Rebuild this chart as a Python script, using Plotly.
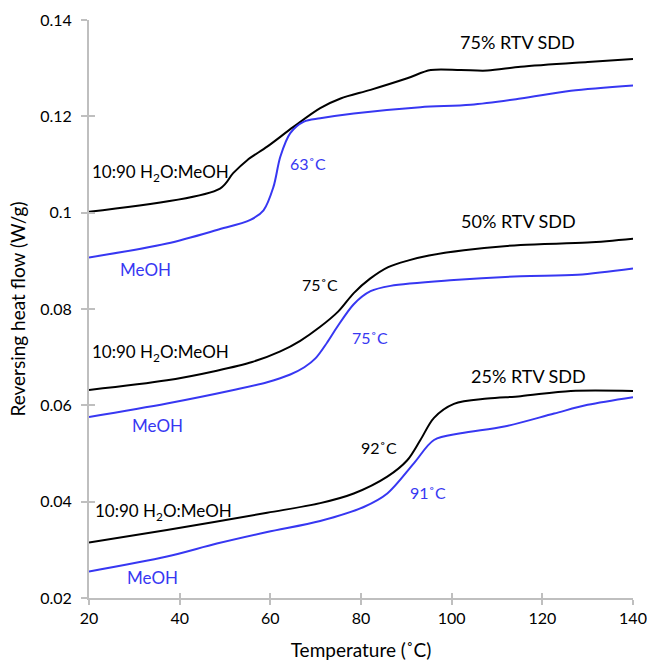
import plotly.graph_objects as go

# 75% RTV SDD
x75_w = [20, 48.9, 51.8, 54.9, 59.3, 65.1, 71.0, 75.5, 82.1, 90.2, 95.4, 102, 107.9, 115.2, 130, 140]
y75_w = [0.1002, 0.1050, 0.1082, 0.1109, 0.1137, 0.1178, 0.1217, 0.1237, 0.1255, 0.1279, 0.1296, 0.1296, 0.1295, 0.1303, 0.1313, 0.1319]
x75_m = [20, 37.2, 48.2, 55.6, 58.5, 60.7, 62.2, 64.4, 67.4, 71.0, 78.4, 93.1, 104.2, 115.2, 126.3, 140]
y75_m = [0.0907, 0.0936, 0.0964, 0.0985, 0.1005, 0.1054, 0.1116, 0.1165, 0.1189, 0.1196, 0.1206, 0.1219, 0.1224, 0.1237, 0.1253, 0.1264]

# 50% RTV SDD
x50_w = [20, 37.2, 48.2, 56.0, 62.2, 66.6, 71.0, 75.0, 78.4, 82.0, 86.0, 90.5, 95.0, 102.7, 115.2, 130, 140]
y50_w = [0.0632, 0.0652, 0.0672, 0.0690, 0.0712, 0.0734, 0.0763, 0.0795, 0.0833, 0.0863, 0.0887, 0.0901, 0.0911, 0.0922, 0.0933, 0.0938, 0.0946]
x50_m = [20, 37.2, 51.9, 59.3, 64.4, 67.5, 70.0, 72.5, 74.7, 78.4, 82.1, 86.5, 100.5, 115.2, 127.8, 140]
y50_m = [0.0576, 0.0604, 0.0632, 0.0648, 0.0664, 0.0679, 0.0698, 0.0730, 0.0762, 0.0810, 0.0837, 0.0848, 0.0860, 0.0868, 0.0871, 0.0884]

# 25% RTV SDD
x25_w = [20, 37.2, 59.3, 71.0, 78.4, 85.8, 90.2, 93.1, 96.1, 100.5, 107.9, 115.2, 126.3, 140]
y25_w = [0.0315, 0.0341, 0.0377, 0.0397, 0.0417, 0.0452, 0.0486, 0.0528, 0.0574, 0.0603, 0.0614, 0.0619, 0.0630, 0.0630]
x25_m = [20, 37.2, 48.2, 59.3, 71.0, 80.6, 85.8, 91.7, 96.1, 102, 111.6, 122.6, 130, 140]
y25_m = [0.0255, 0.0286, 0.0313, 0.0337, 0.0360, 0.0389, 0.0417, 0.0480, 0.0528, 0.0542, 0.0556, 0.0583, 0.0601, 0.0617]

BLACK = "#000000"
BLUE = "#3737F2"
FONT = "Lato"

fig = go.Figure()
for xs, ys, c in [(x75_w, y75_w, BLACK), (x75_m, y75_m, BLUE),
                  (x50_w, y50_w, BLACK), (x50_m, y50_m, BLUE),
                  (x25_w, y25_w, BLACK), (x25_m, y25_m, BLUE)]:
    fig.add_trace(go.Scatter(x=xs, y=ys, mode="lines",
                             line=dict(color=c, width=2, shape="spline", smoothing=0.9),
                             showlegend=False, hoverinfo="skip"))

labels = [
    ("75% RTV SDD", 114.6, 0.1354, BLACK, 18),
    ("10:90 H<sub>2</sub>O:MeOH", 35.7, 0.1082, BLACK, 17),
    ("63˚C", 68.4, 0.1103, BLUE, 16),
    ("MeOH", 32.4, 0.0881, BLUE, 17),
    ("50% RTV SDD", 114.8, 0.0983, BLACK, 18),
    ("75˚C", 71.0, 0.0850, BLACK, 16),
    ("10:90 H<sub>2</sub>O:MeOH", 35.7, 0.0709, BLACK, 17),
    ("75˚C", 81.9, 0.0740, BLUE, 16),
    ("MeOH", 35.2, 0.0559, BLUE, 17),
    ("25% RTV SDD", 117.0, 0.0661, BLACK, 18),
    ("92˚C", 83.9, 0.0513, BLACK, 16),
    ("10:90 H<sub>2</sub>O:MeOH", 36.4, 0.0379, BLACK, 17),
    ("91˚C", 94.7, 0.0420, BLUE, 16),
    ("MeOH", 33.9, 0.0243, BLUE, 17),
]
for t, x, y, c, s in labels:
    fig.add_annotation(x=x, y=y, text=t, showarrow=False,
                       font=dict(family=FONT, size=s, color=c),
                       xanchor="center", yanchor="middle")

AX = "#BFBFBF"
fig.update_layout(
    width=647, height=661,
    margin=dict(l=89, r=14, t=20, b=63),
    plot_bgcolor="white", paper_bgcolor="white",
    font=dict(family=FONT, size=16, color="#000000"),
    xaxis=dict(range=[20, 140], dtick=20, showgrid=False, zeroline=False, automargin=False,
               showline=True, linecolor=AX, linewidth=2,
               ticks="outside", ticklen=5, tickwidth=1.5, tickcolor=AX,
               tickfont=dict(size=16),
               title=dict(text="Temperature (˚C)", font=dict(size=19), standoff=18)),
    yaxis=dict(range=[0.02, 0.14], dtick=0.02, tickformat="~g", showgrid=False, zeroline=False,
               automargin=False,
               showline=True, linecolor=AX, linewidth=2,
               ticks="outside", ticklen=6, tickwidth=1.5, tickcolor=AX,
               ticklabelstandoff=6,
               tickfont=dict(size=16),
               title=dict(text="Reversing heat flow (W/g)", font=dict(size=19), standoff=10)),
    xaxis2=dict(range=[20, 140], dtick=20, overlaying="x", matches="x", showgrid=False,
                zeroline=False, showline=False, showticklabels=False,
                ticks="inside", ticklen=5, tickwidth=1.5, tickcolor=AX),
    yaxis2=dict(range=[0.02, 0.14], dtick=0.02, overlaying="y", matches="y", showgrid=False,
                zeroline=False, showline=False, showticklabels=False,
                ticks="inside", ticklen=6, tickwidth=1.5, tickcolor=AX),
)
fig.add_trace(go.Scatter(x=[None], y=[None], xaxis="x2", yaxis="y2", showlegend=False, hoverinfo="skip"))

fig.write_html("out.html")
